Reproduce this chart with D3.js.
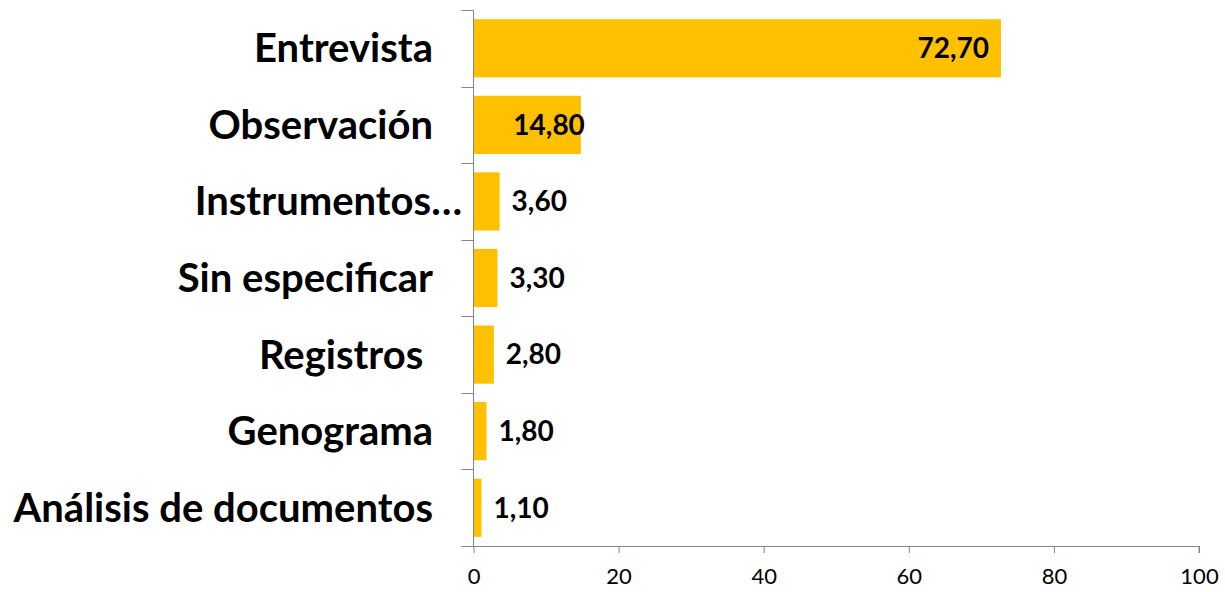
<!DOCTYPE html>
<html>
<head>
<meta charset="utf-8">
<script src="https://cdn.jsdelivr.net/npm/d3@7"></script>
<style>
  body { margin: 0; background: #fff; }
  text { font-family: Lato, "Open Sans", sans-serif; }
</style>
</head>
<body>
<script>
const w = 1225;
const h = 592;

const categories = [
  "Entrevista",
  "Observación",
  "Instrumentos…",
  "Sin especificar",
  "Registros ",
  "Genograma",
  "Análisis de documentos"
];
const values = [72.7, 14.8, 3.6, 3.3, 2.8, 1.8, 1.1];
const xTicks = [0, 20, 40, 60, 80, 100];

const margin = { top: 10, right: 26, bottom: 46, left: 473.5 };

const svg = d3
  .select("body")
  .append("svg")
  .attr("width", w)
  .attr("height", h);

const x = d3.scaleLinear().domain([0, 100]).range([margin.left, w - margin.right]);
const y = d3
  .scaleBand()
  .domain(categories)
  .range([margin.top, h - margin.bottom])
  .paddingInner(0.24)
  .paddingOuter(0.12);

const data = categories.map((c, i) => ({ name: c, value: values[i] }));
const fmt = (v) => d3.format(".2f")(v).replace(".", ",");
const axisColor = "#868686";

// bars
svg
  .selectAll("rect.bar")
  .data(data)
  .enter()
  .append("rect")
  .attr("class", "bar")
  .attr("x", x(0))
  .attr("y", (d) => y(d.name))
  .attr("width", (d) => x(d.value) - x(0))
  .attr("height", y.bandwidth())
  .attr("fill", "#FFC000");

// x axis
const xAxis = svg
  .append("g")
  .attr("transform", `translate(0, ${h - margin.bottom})`)
  .call(d3.axisBottom(x).tickValues(xTicks).tickSize(7).tickPadding(15).tickFormat(d3.format("d")));
xAxis.select(".domain").attr("stroke", axisColor).attr("d", `M${x(0) - 12},0.5H${x(100)}V7`);
xAxis.selectAll(".tick line").attr("stroke", axisColor);
xAxis.selectAll(".tick text").attr("fill", "#000").style("font-size", "22px");

// y axis line with ticks at band edges
const edges = d3.range(categories.length + 1).map((i) => margin.top + i * y.step());
svg
  .append("line")
  .attr("x1", x(0))
  .attr("x2", x(0))
  .attr("y1", margin.top)
  .attr("y2", h - margin.bottom)
  .attr("stroke", axisColor);
svg
  .selectAll("line.ytick")
  .data(edges)
  .enter()
  .append("line")
  .attr("class", "ytick")
  .attr("x1", x(0) - 12)
  .attr("x2", x(0))
  .attr("y1", (d) => Math.round(d) + 0.5)
  .attr("y2", (d) => Math.round(d) + 0.5)
  .attr("stroke", axisColor);

// category labels
svg
  .selectAll("text.cat")
  .data(data)
  .enter()
  .append("text")
  .attr("class", "cat")
  .attr("xml:space", "preserve")
  .attr("x", (d) => (d.name.endsWith("…") ? 462 : 433))
  .attr("y", (d) => y(d.name) + y.bandwidth() / 2)
  .attr("dy", "0.35em")
  .attr("text-anchor", "end")
  .style("font-size", "40px")
  .style("font-weight", "bold")
  .text((d) => d.name);

// value labels
svg
  .selectAll("text.val")
  .data(data)
  .enter()
  .append("text")
  .attr("class", "val")
  .attr("x", (d) => {
    if (d.value > 50) return x(d.value) - 12;
    if (d.value > 10) return x(d.value) + 4;
    return x(d.value) + 12;
  })
  .attr("y", (d) => y(d.name) + y.bandwidth() / 2)
  .attr("dy", "0.35em")
  .attr("text-anchor", (d) => (d.value > 10 ? "end" : "start"))
  .style("font-size", "28px")
  .style("font-weight", "bold")
  .text((d) => fmt(d.value));
</script>
</body>
</html>
